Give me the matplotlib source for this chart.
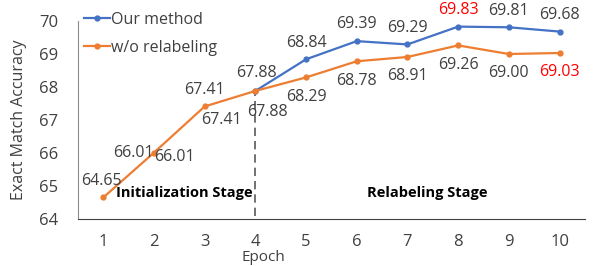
import matplotlib
matplotlib.use("Agg")
import matplotlib.pyplot as plt

plt.rcParams['font.family'] = ['Open Sans', 'DejaVu Sans']

epochs = [1, 2, 3, 4, 5, 6, 7, 8, 9, 10]
ours = [64.65, 66.01, 67.41, 67.88, 68.84, 69.39, 69.29, 69.83, 69.81, 69.68]
wo_relabel = [64.65, 66.01, 67.41, 67.88, 68.29, 68.78, 68.91, 69.26, 69.00, 69.03]
yticks = [64, 65, 66, 67, 68, 69, 70]

BLUE = "#4472C4"
ORANGE = "#ED7D31"
TXT = "#404040"
FS = 11.5

fig = plt.figure(figsize=(5.95, 2.66), dpi=100)
ax = fig.add_axes([0.131, 0.177, 0.852, 0.744])

ax.plot(epochs[3:], ours[3:], color=BLUE, lw=1.6, marker="o", ms=3.5, label="Our method")
ax.plot(epochs, wo_relabel, color=ORANGE, lw=1.6, marker="o", ms=3.5, label="w/o relabeling")

# stage divider
ax.plot([4, 4], [64.1, wo_relabel[3]], color="#595959", lw=1.2, ls=(0, (5, 3)), zorder=1)

def lab(x, y, dx, dy, color=TXT, ha="center"):
    ax.annotate(f"{y:.2f}", (x, y), xytext=(dx, dy), textcoords="offset points",
                ha=ha, va="center", fontsize=FS, color=color)

# epochs 1-4 (shared values)
lab(1, ours[0], -1, 12)
lab(2, ours[1], 0, 0, ha="right")
lab(2, wo_relabel[1], 0, -3, ha="left")
lab(3, ours[2], 0, 12)
lab(3, wo_relabel[2], 12, -10)
lab(4, ours[3], 1, 13)
lab(4, wo_relabel[3], 9, -15)

# relabeling stage
for i in range(4, 10):
    lab(epochs[i], ours[i], 0, 12, color="#FF0000" if i == 7 else TXT)
    lab(epochs[i], wo_relabel[i], 0, -14, color="#FF0000" if i == 9 else TXT)

ax.text(3.95, 64.79, "Initialization Stage", ha="right", va="center",
        fontsize=10.5, fontweight="bold", color="black")
ax.text(7.39, 64.79, "Relabeling Stage", ha="center", va="center",
        fontsize=10.5, fontweight="bold", color="black")

ax.set_xlim(0.5, 10.5)
ax.set_ylim(64, 70)
ax.set_xticks(epochs)
ax.set_yticks(yticks)
ax.tick_params(length=0, labelsize=12, labelcolor=TXT)
ax.tick_params(axis="x", pad=11)
ax.tick_params(axis="y", pad=14)
for s in ["top", "right"]:
    ax.spines[s].set_visible(False)
ax.spines["left"].set_color("#8c8c8c")
ax.spines["bottom"].set_color("#404040")

ax.set_ylabel("Exact Match Accuracy", fontsize=FS, color=TXT)
ax.yaxis.set_label_coords(-0.10, 0.5)
ax.set_xlabel("Epoch", fontsize=11, color=TXT)
ax.xaxis.set_label_coords(0.365, -0.155)

handles, labels = ax.get_legend_handles_labels()
ax.legend(handles, labels, loc="upper left", bbox_to_anchor=(0.0, 1.08), frameon=False,
          fontsize=FS, labelcolor=TXT, handlelength=1.6, handletextpad=0.1,
          labelspacing=0.75, borderaxespad=0)

fig.savefig("out.png", dpi=100)
